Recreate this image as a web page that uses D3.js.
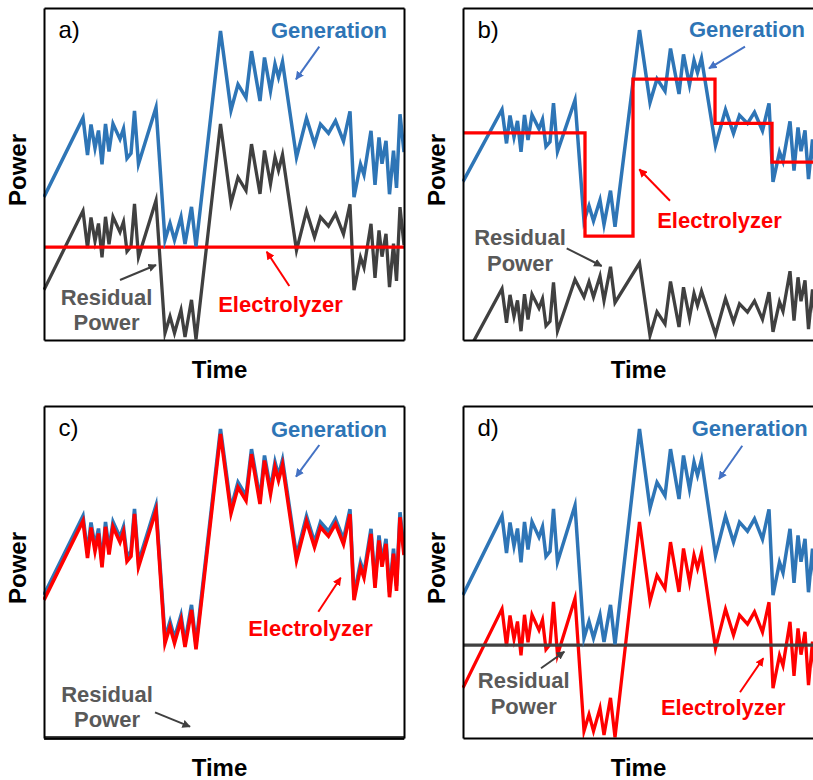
<!DOCTYPE html>
<html><head><meta charset="utf-8">
<script src="https://cdn.jsdelivr.net/npm/d3@7"></script>
<style>
html,body{margin:0;padding:0;background:#fff;overflow:hidden}
svg{display:block}
text{font-family:"Liberation Sans", Arial, Helvetica, sans-serif}
</style></head><body>
<svg id="chart" width="813" height="780"></svg>
<script>
// Sample times shared by every fluctuating series
const time = [0, 39, 43.5, 47, 51, 54.5, 58, 61.5, 65, 69, 76, 79.5, 83, 87, 90.5, 94.5,
  112, 121, 126, 130.5, 137, 141, 147.5, 152, 176.5, 187, 194, 202, 207.5, 216, 220.5,
  226.5, 231, 234.5, 238.5, 252.5, 262.5, 270.5, 276.5, 284.5, 291.5, 299.5, 306, 310,
  316.5, 320, 327, 331, 335, 338, 342, 345.5, 349.5, 352.5, 356, 360];

// Renewable generation (same profile in all four cases)
const generation = [43.1, 66.9, 55.7, 64.9, 57.8, 63.1, 52.9, 65.1, 56.8, 65.1, 60.5, 63.6,
  54.7, 56.2, 69.0, 53.0, 70.0, 30.1, 35.1, 30.1, 37.0, 28.9, 40.1, 28.2, 93.1, 69.2, 77.0,
  73.0, 87.0, 72.0, 85.1, 75.0, 83.1, 79.1, 83.8, 55.0, 66.8, 59.0, 65.0, 62.3, 66.0, 59.9,
  68.9, 43.0, 52.9, 49.8, 63.0, 46.7, 61.0, 53.1, 60.0, 43.9, 57.0, 45.8, 68.0, 56.6];

// a) constant electrolyzer load, residual power fluctuates
const flatTime = [0, 360];
const electrolyzerA = [28, 28];
const residualA = [15.1, 38.9, 27.7, 36.9, 29.8, 35.1, 24.9, 37.1, 28.8, 37.1, 32.5, 35.6,
  26.7, 28.2, 41.0, 25.0, 42.0, 2.1, 7.1, 2.1, 9.0, 0.9, 12.1, 0.2, 65.1, 41.2, 49.0, 45.0,
  59.0, 44.0, 57.1, 47.0, 55.1, 51.1, 55.8, 27.0, 38.8, 31.0, 37.0, 34.3, 38.0, 31.9, 40.9,
  15.0, 24.9, 21.8, 35.0, 18.7, 33.0, 25.1, 32.0, 15.9, 29.0, 17.8, 40.0, 28.6];

// b) stepwise electrolyzer load
const stepTimeB = [0, 122, 170, 252, 309, 360];
const electrolyzerB = [59.2, 25.1, 76.9, 62.3, 49.5, 49.5];
const residualB = [-16.1, 7.7, -3.5, 5.7, -1.4, 3.9, -6.3, 5.9, -2.4, 5.9, 1.3, 4.4, -4.5,
  -3.0, 9.8, -6.2, 10.8, 5.0, 10.0, 5.0, 11.9, 3.8, 15.0, 3.1, 16.2, -7.7, 0.1, -3.9, 10.1,
  -4.9, 8.2, -1.9, 6.2, 2.2, 6.9, -7.3, 4.5, -3.3, 2.7, 0.0, 3.7, -2.4, 6.6, -6.5, 3.4, 0.3,
  13.5, -2.8, 11.5, 3.6, 10.5, -5.6, 7.5, -3.7, 18.5, 7.1];

// c) electrolyzer follows generation, no residual
const electrolyzerC = [41.6, 65.4, 54.2, 63.4, 56.3, 61.6, 51.4, 63.6, 55.3, 63.6, 59.0,
  62.1, 53.2, 54.7, 67.5, 51.5, 68.5, 28.6, 33.6, 28.6, 35.5, 27.4, 38.6, 26.7, 91.6, 67.7,
  75.5, 71.5, 85.5, 70.5, 83.6, 73.5, 81.6, 77.6, 82.3, 53.5, 65.3, 57.5, 63.5, 60.8, 64.5,
  58.4, 67.4, 41.5, 51.4, 48.3, 61.5, 45.2, 59.5, 51.6, 58.5, 42.4, 55.5, 44.3, 66.5, 55.1];
const residualC = [0, 0];

// d) electrolyzer follows generation above a constant residual
const electrolyzerD = [15.1, 38.9, 27.7, 36.9, 29.8, 35.1, 24.9, 37.1, 28.8, 37.1, 32.5,
  35.6, 26.7, 28.2, 41.0, 25.0, 42.0, 2.1, 7.1, 2.1, 9.0, 0.9, 12.1, 0.2, 65.1, 41.2, 49.0,
  45.0, 59.0, 44.0, 57.1, 47.0, 55.1, 51.1, 55.8, 27.0, 38.8, 31.0, 37.0, 34.3, 38.0, 31.9,
  40.9, 15.0, 24.9, 21.8, 35.0, 18.7, 33.0, 25.1, 32.0, 15.9, 29.0, 17.8, 40.0, 28.6];
const residualD = [28, 28];

const panelLabels = ["a)", "b)", "c)", "d)"];
const xLabel = "Time";
const yLabel = "Power";

const BLUE = "#2E75B6", RED = "#FF0000", GRAY = "#404040", GRAY_TXT = "#595959", ARROW_BLUE = "#4472C4";
const W = 360, H = 332;

const svg = d3.select("#chart");
const defs = svg.append("defs");
[["blue", ARROW_BLUE], ["red", RED], ["gray", GRAY]].forEach(([id, c]) => {
  defs.append("marker").attr("id", "head-" + id)
    .attr("viewBox", "0 0 10 10").attr("refX", 9).attr("refY", 5)
    .attr("markerWidth", 4.2).attr("markerHeight", 4.2).attr("markerUnits", "strokeWidth")
    .attr("orient", "auto")
    .append("path").attr("d", "M0,0L10,5L0,10Z").attr("fill", c);
});

const zip = (t, v) => t.map((d, i) => [d, v[i]]);

const panels = [
  { x: 44, y: 8, yDomain: [0, 100], padBottom: 1,
    series: [
      { pts: zip(time, residualA), color: GRAY, w: 3.3 },
      { pts: zip(flatTime, electrolyzerA), color: RED, w: 3.3 },
      { pts: zip(time, generation), color: BLUE, w: 3.5 }],
    notes: [
      { text: "Generation", color: BLUE, x: 285, y: 30 },
      { text: "Residual", color: GRAY_TXT, x: 62.5, y: 297 },
      { text: "Power", color: GRAY_TXT, x: 62.5, y: 322 },
      { text: "Electrolyzer", color: RED, x: 236.5, y: 304 }],
    arrows: [
      { c: "blue", from: [275.3, 38.7], to: [252, 71.3] },
      { c: "gray", from: [76, 272], to: [112, 257] },
      { c: "red", from: [245.3, 278], to: [222.7, 243.7] }] },
  { x: 463, y: 8, yDomain: [-9.2, 100.4], padBottom: 1,
    series: [
      { pts: zip(time, residualB), color: GRAY, w: 3.3 },
      { pts: zip(time, generation), color: BLUE, w: 3.5 },
      { pts: zip(stepTimeB, electrolyzerB), color: RED, w: 3.3, step: true }],
    notes: [
      { text: "Generation", color: BLUE, x: 284, y: 28.7 },
      { text: "Electrolyzer", color: RED, x: 256.5, y: 219.5 },
      { text: "Residual", color: GRAY_TXT, x: 57, y: 237 },
      { text: "Power", color: GRAY_TXT, x: 57, y: 262.7 }],
    arrows: [
      { c: "blue", from: [282, 38.7], to: [246, 60.3] },
      { c: "red", from: [207, 192.7], to: [176.3, 161.3] },
      { c: "gray", from: [103.7, 240.3], to: [138.7, 258] }] },
  { x: 44, y: 406, yDomain: [0, 100], padBottom: 2.5,
    series: [
      { pts: zip(flatTime, residualC), color: GRAY, w: 4 },
      { pts: zip(time, generation), color: BLUE, w: 3.6 },
      { pts: zip(time, electrolyzerC), color: RED, w: 3.6 }],
    notes: [
      { text: "Generation", color: BLUE, x: 285, y: 30.7 },
      { text: "Electrolyzer", color: RED, x: 266.5, y: 230 },
      { text: "Residual", color: GRAY_TXT, x: 63, y: 295.7 },
      { text: "Power", color: GRAY_TXT, x: 63, y: 320.7 }],
    arrows: [
      { c: "blue", from: [275.3, 39], to: [252, 70.7] },
      { c: "red", from: [274.3, 205.7], to: [296.7, 171.7] },
      { c: "gray", from: [111, 306.3], to: [146, 320.7] }] },
  { x: 463, y: 406, yDomain: [0, 100], padBottom: 1,
    series: [
      { pts: zip(time, electrolyzerD), color: RED, w: 3.3 },
      { pts: zip(flatTime, residualD), color: GRAY, w: 3.3 },
      { pts: zip(time, generation), color: BLUE, w: 3.5 }],
    notes: [
      { text: "Generation", color: BLUE, x: 286.7, y: 30 },
      { text: "Electrolyzer", color: RED, x: 260.3, y: 309 },
      { text: "Residual", color: GRAY_TXT, x: 60.7, y: 282 },
      { text: "Power", color: GRAY_TXT, x: 60.7, y: 308 }],
    arrows: [
      { c: "blue", from: [279.3, 39.7], to: [256, 73] },
      { c: "red", from: [277, 286.3], to: [300.3, 252.3] },
      { c: "gray", from: [78, 262.3], to: [101.3, 245.7] }] }
];

panels.forEach((p, i) => {
  const g = svg.append("g").attr("transform", `translate(${p.x},${p.y})`);
  const x = d3.scaleLinear().domain([0, 360]).range([0, W]);
  const y = d3.scaleLinear().domain(p.yDomain).range([H, 0]);

  defs.append("clipPath").attr("id", "clip" + i)
    .append("rect").attr("x", -1).attr("y", -1).attr("width", W + 2).attr("height", H + 1 + p.padBottom);

  const plot = g.append("g").attr("clip-path", `url(#clip${i})`);
  p.series.forEach(s => {
    const line = d3.line().x(d => x(d[0])).y(d => y(d[1]))
      .curve(s.step ? d3.curveStepAfter : d3.curveLinear);
    plot.append("path").datum(s.pts).attr("d", line)
      .attr("fill", "none").attr("stroke", s.color).attr("stroke-width", s.w)
      .attr("stroke-linejoin", "miter").attr("stroke-miterlimit", 6);
  });

  // axes drawn as a plain frame: no ticks in this schematic
  g.append("g").call(d3.axisBottom(x).tickValues([]).tickSizeOuter(0)).attr("transform", `translate(0,${H})`)
    .select(".domain").attr("stroke", "#000").attr("stroke-width", 2);
  g.append("g").call(d3.axisLeft(y).tickValues([]).tickSizeOuter(0))
    .select(".domain").attr("stroke", "#000").attr("stroke-width", 2);
  g.append("g").call(d3.axisTop(x).tickValues([]).tickSizeOuter(0))
    .select(".domain").attr("stroke", "#000").attr("stroke-width", 2);
  g.append("g").call(d3.axisRight(y).tickValues([]).tickSizeOuter(0)).attr("transform", `translate(${W},0)`)
    .select(".domain").attr("stroke", "#000").attr("stroke-width", 2);

  g.append("text").attr("x", 14.5).attr("y", 29.5).attr("font-size", 24).attr("fill", "#000")
    .text(panelLabels[i]);

  p.notes.forEach(n => {
    g.append("text").attr("x", n.x).attr("y", n.y).attr("text-anchor", "middle")
      .attr("font-size", 22).attr("font-weight", "bold").attr("fill", n.color).text(n.text);
  });
  p.arrows.forEach(a => {
    const col = a.c === "blue" ? ARROW_BLUE : a.c === "red" ? RED : GRAY;
    g.append("line").attr("x1", a.from[0]).attr("y1", a.from[1]).attr("x2", a.to[0]).attr("y2", a.to[1])
      .attr("stroke", col).attr("stroke-width", 2).attr("marker-end", `url(#head-${a.c})`);
  });

  g.append("text").attr("transform", `translate(-18,${H / 2 - 4}) rotate(-90)`)
    .attr("text-anchor", "middle").attr("font-size", 24).attr("font-weight", "bold").attr("fill", "#000")
    .text(yLabel);
  g.append("text").attr("x", 175.5).attr("y", 370).attr("text-anchor", "middle")
    .attr("font-size", 24).attr("font-weight", "bold").attr("fill", "#000").text(xLabel);
});
</script>
</body></html>
